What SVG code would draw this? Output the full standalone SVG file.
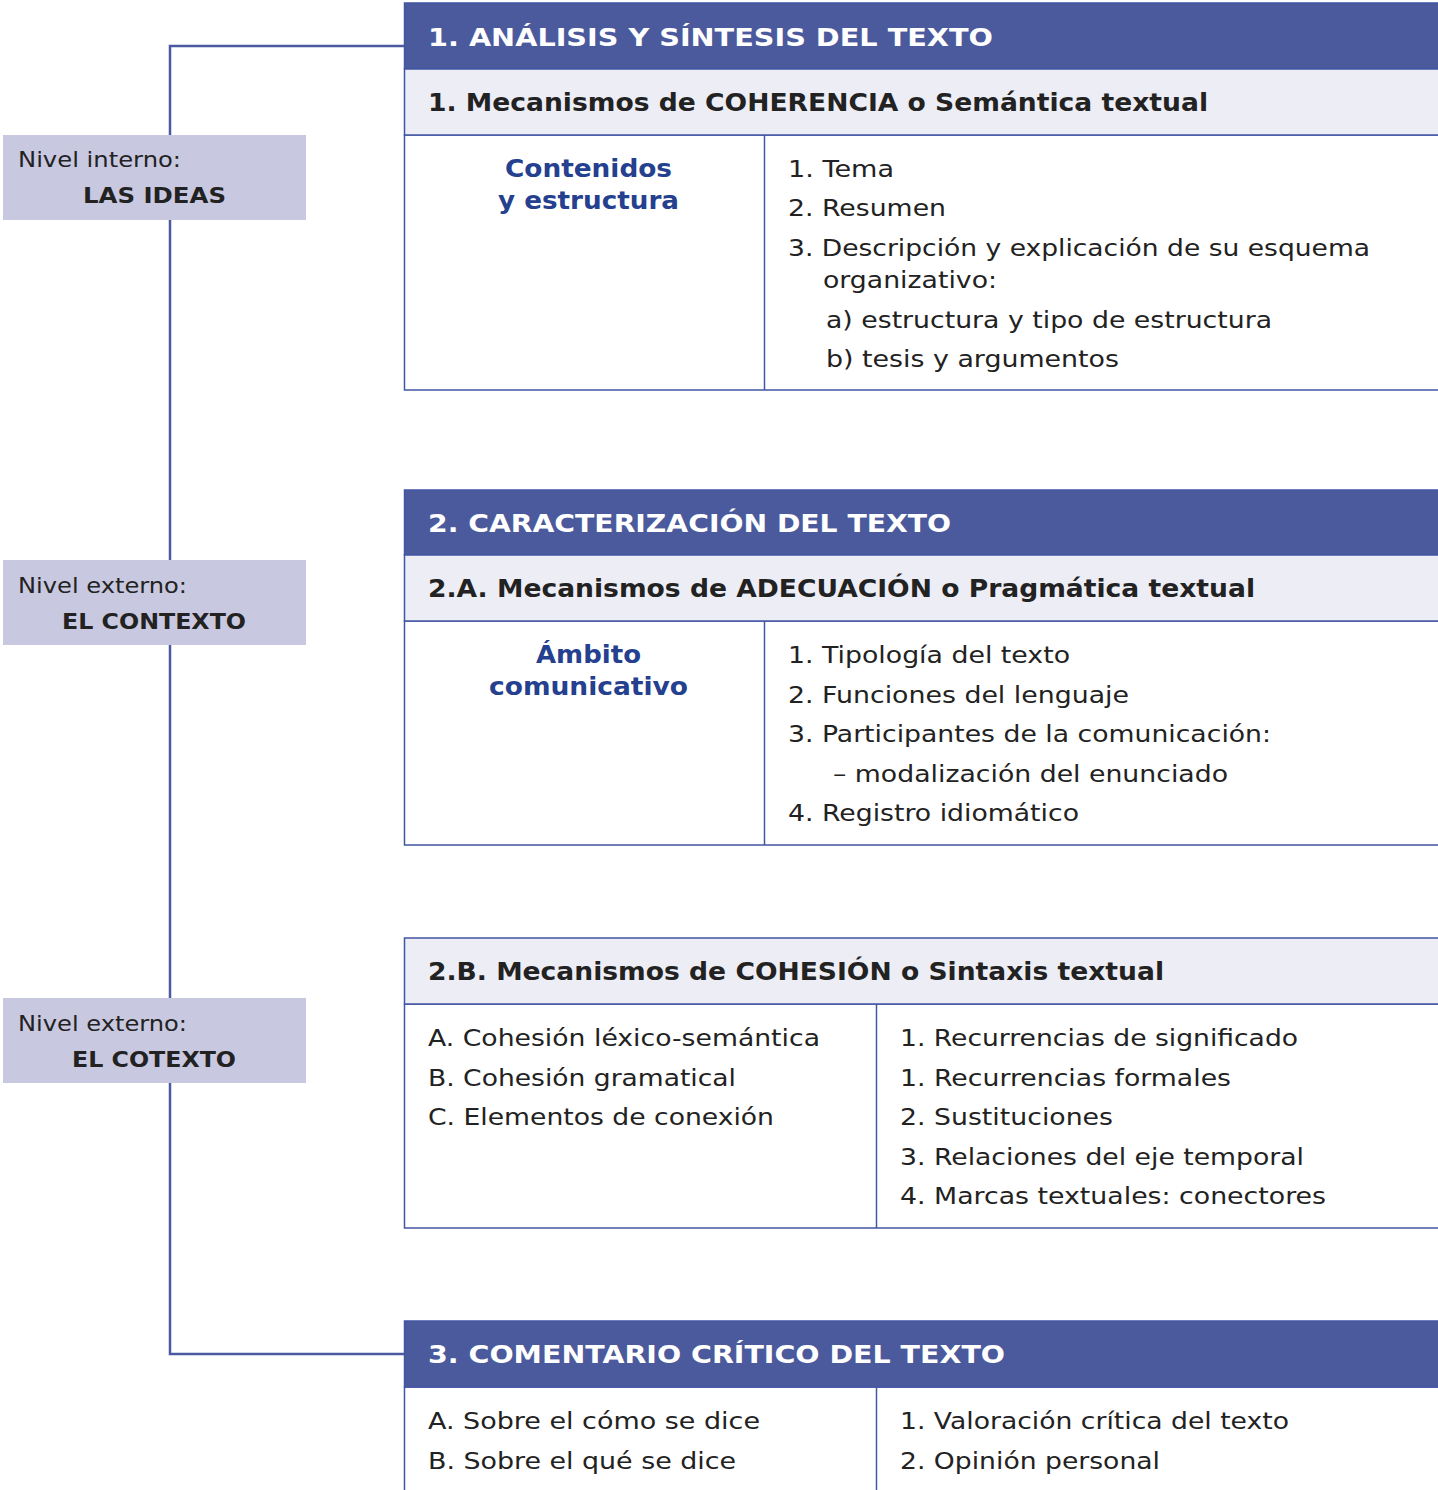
<svg xmlns="http://www.w3.org/2000/svg" width="1438" height="1490" viewBox="0 0 1438 1490">
<style>
.hdr{fill:#4b5a9c;stroke:#4256a4;stroke-width:1.5}
.sub{fill:#ededf6;stroke:#4256a4;stroke-width:1.5}
.body{fill:#ffffff;stroke:#4256a4;stroke-width:1.5}
.div{stroke:#4256a4;stroke-width:1.5}
.lbl{fill:#c8c8e0}
.conn{fill:none;stroke:#4b5aa0;stroke-width:2.5}
text{font-family:"DejaVu Sans",Verdana,sans-serif;fill:#222222}
.ht{font-size:24.5px;font-weight:bold;fill:#ffffff}
.st{font-size:24.5px;font-weight:bold}
.bt{font-size:23px}
.blue{font-size:24.5px;font-weight:bold;fill:#24408e}
.ln{font-size:22px}
.lb{font-size:22px;font-weight:bold}
</style>
<g id="connectors">
<polyline class="conn" points="404,46 170,46 170,1354 404,1354"/>
</g>
<g id="label-ideas">
<rect class="lbl" x="3" y="135" width="303" height="85"/>
<text class="ln" x="18" y="167" textLength="163" lengthAdjust="spacingAndGlyphs">Nivel interno:</text>
<text class="lb" x="154.5" y="203" text-anchor="middle" textLength="143" lengthAdjust="spacingAndGlyphs">LAS IDEAS</text>
</g>
<g id="label-contexto">
<rect class="lbl" x="3" y="560" width="303" height="85"/>
<text class="ln" x="18" y="593" textLength="169" lengthAdjust="spacingAndGlyphs">Nivel externo:</text>
<text class="lb" x="154" y="629" text-anchor="middle" textLength="184" lengthAdjust="spacingAndGlyphs">EL CONTEXTO</text>
</g>
<g id="label-cotexto">
<rect class="lbl" x="3" y="998" width="303" height="85"/>
<text class="ln" x="18" y="1031" textLength="169" lengthAdjust="spacingAndGlyphs">Nivel externo:</text>
<text class="lb" x="154" y="1067" text-anchor="middle" textLength="164" lengthAdjust="spacingAndGlyphs">EL COTEXTO</text>
</g>
<g id="box1">
<rect class="body" x="404.5" y="135" width="1040" height="255"/>
<rect class="hdr" x="404.5" y="3" width="1040" height="66"/>
<rect class="sub" x="404.5" y="69" width="1040" height="66"/>
<line class="div" x1="764.5" y1="135" x2="764.5" y2="390"/>
<text class="ht" x="428" y="46" textLength="565" lengthAdjust="spacingAndGlyphs">1. ANÁLISIS Y SÍNTESIS DEL TEXTO</text>
<text class="st" x="428" y="111" textLength="780" lengthAdjust="spacingAndGlyphs">1. Mecanismos de COHERENCIA o Semántica textual</text>
<text class="blue" x="588.5" y="177" text-anchor="middle" textLength="167" lengthAdjust="spacingAndGlyphs">Contenidos</text>
<text class="blue" x="588.5" y="209" text-anchor="middle" textLength="181" lengthAdjust="spacingAndGlyphs">y estructura</text>
<text class="bt" x="788" y="177" textLength="106" lengthAdjust="spacingAndGlyphs">1. Tema</text>
<text class="bt" x="788" y="216" textLength="158" lengthAdjust="spacingAndGlyphs">2. Resumen</text>
<text class="bt" x="788" y="256" textLength="582" lengthAdjust="spacingAndGlyphs">3. Descripción y explicación de su esquema</text>
<text class="bt" x="823" y="288" textLength="174" lengthAdjust="spacingAndGlyphs">organizativo:</text>
<text class="bt" x="826" y="328" textLength="446" lengthAdjust="spacingAndGlyphs">a) estructura y tipo de estructura</text>
<text class="bt" x="826" y="367" textLength="293" lengthAdjust="spacingAndGlyphs">b) tesis y argumentos</text>
</g>
<g id="box2">
<rect class="body" x="404.5" y="621" width="1040" height="224"/>
<rect class="hdr" x="404.5" y="490" width="1040" height="65"/>
<rect class="sub" x="404.5" y="555" width="1040" height="66"/>
<line class="div" x1="764.5" y1="621" x2="764.5" y2="845"/>
<text class="ht" x="428" y="532" textLength="523" lengthAdjust="spacingAndGlyphs">2. CARACTERIZACIÓN DEL TEXTO</text>
<text class="st" x="428" y="597" textLength="827" lengthAdjust="spacingAndGlyphs">2.A. Mecanismos de ADECUACIÓN o Pragmática textual</text>
<text class="blue" x="588.5" y="663" text-anchor="middle" textLength="105" lengthAdjust="spacingAndGlyphs">Ámbito</text>
<text class="blue" x="588.5" y="695" text-anchor="middle" textLength="199" lengthAdjust="spacingAndGlyphs">comunicativo</text>
<text class="bt" x="788" y="663" textLength="282" lengthAdjust="spacingAndGlyphs">1. Tipología del texto</text>
<text class="bt" x="788" y="703" textLength="341" lengthAdjust="spacingAndGlyphs">2. Funciones del lenguaje</text>
<text class="bt" x="788" y="742" textLength="483" lengthAdjust="spacingAndGlyphs">3. Participantes de la comunicación:</text>
<text class="bt" x="833" y="782" textLength="395" lengthAdjust="spacingAndGlyphs">– modalización del enunciado</text>
<text class="bt" x="788" y="821" textLength="291" lengthAdjust="spacingAndGlyphs">4. Registro idiomático</text>
</g>
<g id="box2b">
<rect class="body" x="404.5" y="1004" width="1040" height="224"/>
<rect class="sub" x="404.5" y="938" width="1040" height="66"/>
<line class="div" x1="876.5" y1="1004" x2="876.5" y2="1228"/>
<text class="st" x="428" y="980" textLength="736" lengthAdjust="spacingAndGlyphs">2.B. Mecanismos de COHESIÓN o Sintaxis textual</text>
<text class="bt" x="428" y="1046" textLength="392" lengthAdjust="spacingAndGlyphs">A. Cohesión léxico-semántica</text>
<text class="bt" x="428" y="1086" textLength="308" lengthAdjust="spacingAndGlyphs">B. Cohesión gramatical</text>
<text class="bt" x="428" y="1125" textLength="346" lengthAdjust="spacingAndGlyphs">C. Elementos de conexión</text>
<text class="bt" x="900" y="1046" textLength="398" lengthAdjust="spacingAndGlyphs">1. Recurrencias de significado</text>
<text class="bt" x="900" y="1086" textLength="331" lengthAdjust="spacingAndGlyphs">1. Recurrencias formales</text>
<text class="bt" x="900" y="1125" textLength="213" lengthAdjust="spacingAndGlyphs">2. Sustituciones</text>
<text class="bt" x="900" y="1165" textLength="404" lengthAdjust="spacingAndGlyphs">3. Relaciones del eje temporal</text>
<text class="bt" x="900" y="1204" textLength="426" lengthAdjust="spacingAndGlyphs">4. Marcas textuales: conectores</text>
</g>
<g id="box3">
<rect class="body" x="404.5" y="1387" width="1040" height="120"/>
<rect class="hdr" x="404.5" y="1321" width="1040" height="66"/>
<line class="div" x1="876.5" y1="1387" x2="876.5" y2="1500"/>
<text class="ht" x="428" y="1363" textLength="577" lengthAdjust="spacingAndGlyphs">3. COMENTARIO CRÍTICO DEL TEXTO</text>
<text class="bt" x="428" y="1429" textLength="332" lengthAdjust="spacingAndGlyphs">A. Sobre el cómo se dice</text>
<text class="bt" x="428" y="1469" textLength="308" lengthAdjust="spacingAndGlyphs">B. Sobre el qué se dice</text>
<text class="bt" x="900" y="1429" textLength="389" lengthAdjust="spacingAndGlyphs">1. Valoración crítica del texto</text>
<text class="bt" x="900" y="1469" textLength="260" lengthAdjust="spacingAndGlyphs">2. Opinión personal</text>
</g>
</svg>
